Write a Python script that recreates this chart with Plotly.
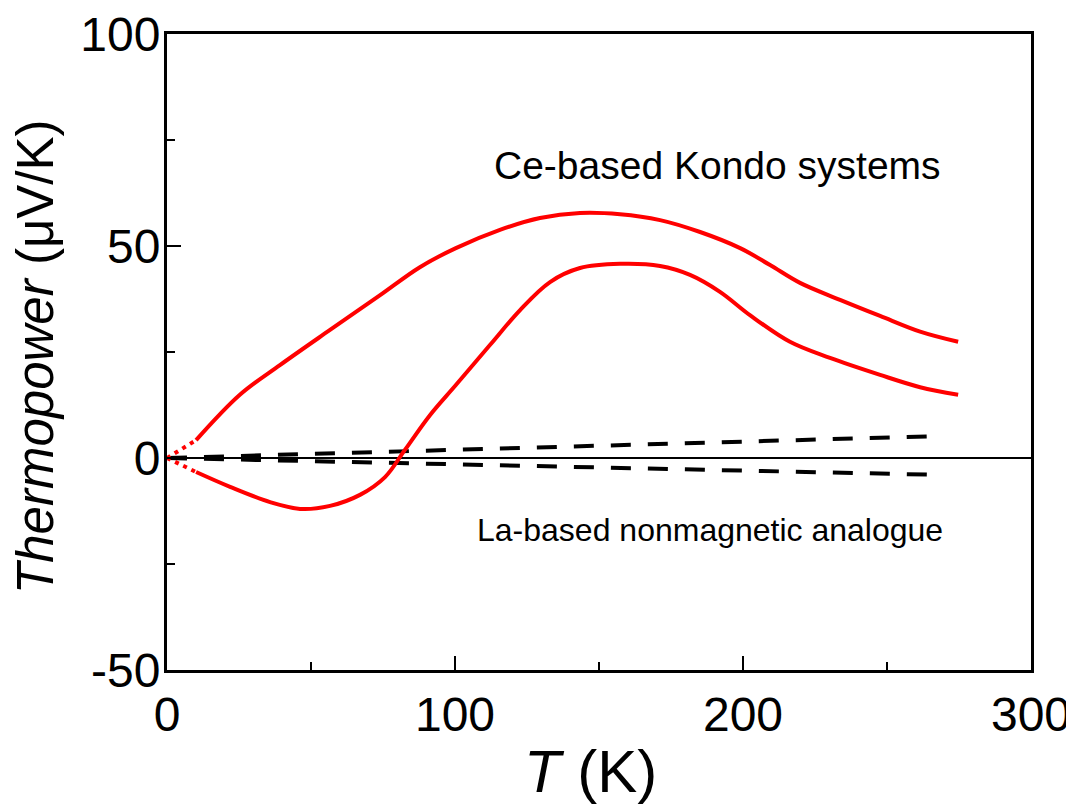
import plotly.graph_objects as go

# Ce-based Kondo system, upper curve
T_upper = [10.1, 25.3, 39.2, 56.6, 74.0, 87.8, 100.3, 115.6, 129.5, 143.4, 157.3, 171.2, 185.1, 199.0, 209.4, 219.8, 233.7, 247.6, 261.5, 274.7]
S_upper = [4.2, 14.9, 21.9, 30.2, 38.4, 45.0, 49.5, 53.8, 56.6, 57.8, 57.5, 56.1, 53.3, 49.5, 45.5, 41.3, 37.3, 33.5, 29.8, 27.4]

# Ce-based Kondo system, lower curve
T_lower = [10.1, 21.9, 35.8, 46.2, 56.6, 67.0, 75.7, 82.6, 91.3, 100.3, 112.2, 122.6, 133.0, 143.4, 157.3, 171.2, 181.6, 192.0, 202.4, 216.3, 230.2, 247.6, 261.5, 274.7]
S_lower = [-3.3, -6.8, -10.4, -12.0, -11.3, -8.7, -4.5, 1.9, 10.1, 17.2, 26.7, 34.9, 41.5, 44.8, 45.8, 45.3, 43.2, 39.2, 33.7, 27.4, 23.6, 19.6, 16.7, 14.9]

# extrapolation to origin (dotted)
T_extrap = [0, 10.1]
S_extrap_up = [0, 4.2]
S_extrap_low = [0, -3.3]

# La-based nonmagnetic analogues (dashed)
T_la = [0, 269.4]
S_la_up = [0, 5.2]
S_la_low = [0, -4.0]

x_ticks = [0, 100, 200, 300]
y_ticks = [-50, 0, 50, 100]

FONT = "Liberation Sans, Arial, sans-serif"
RED = "#ff0000"

fig = go.Figure()
for s in (S_la_up, S_la_low):
    fig.add_trace(go.Scatter(x=T_la, y=s, mode="lines",
                             line=dict(color="black", width=4, dash="20px,17px"),
                             showlegend=False, hoverinfo="skip"))
for s in (S_extrap_up, S_extrap_low):
    fig.add_trace(go.Scatter(x=T_extrap, y=s, mode="lines",
                             line=dict(color=RED, width=4, dash="4px,5px"),
                             showlegend=False, hoverinfo="skip"))
fig.add_trace(go.Scatter(x=T_upper, y=S_upper, mode="lines",
                         line=dict(color=RED, width=4, shape="spline", smoothing=1.0),
                         showlegend=False))
fig.add_trace(go.Scatter(x=T_lower, y=S_lower, mode="lines",
                         line=dict(color=RED, width=4, shape="spline", smoothing=1.0),
                         showlegend=False))

fig.add_annotation(x=191.3, y=68.9, text="Ce-based Kondo systems", showarrow=False,
                   font=dict(family=FONT, size=39, color="black"), xanchor="center", yanchor="middle")
fig.add_annotation(x=188.4, y=-17.0, text="La-based nonmagnetic analogue", showarrow=False,
                   font=dict(family=FONT, size=32, color="black"), xanchor="center", yanchor="middle")

# axis titles
fig.add_annotation(xref="paper", yref="paper", x=0.4896, y=-0.160, text="<i>T</i> (K)", showarrow=False,
                   font=dict(family=FONT, size=60, color="black"), xanchor="center", yanchor="middle")
fig.add_annotation(xref="paper", yref="paper", x=-0.153, y=0.492, text="<i>Thermopower</i> (μV/K)",
                   showarrow=False, textangle=-90,
                   font=dict(family=FONT, size=51, color="black"), xanchor="center", yanchor="middle")

axis_common = dict(showgrid=False, showline=True, linecolor="black", linewidth=3,
                   mirror=True, ticks="inside", ticklen=14, tickwidth=2, tickcolor="black",
                   automargin=False, ticklabeloverflow="allow",
                   tickfont=dict(family=FONT, size=48, color="black"))

fig.update_xaxes(range=[0, 300], tickvals=x_ticks, ticktext=[str(v) for v in x_ticks],
                 zeroline=False,
                 minor=dict(ticks="inside", ticklen=8, tickwidth=2, dtick=50, tick0=0, tickcolor="black"),
                 **axis_common)
fig.update_yaxes(range=[-50, 100], tickvals=y_ticks, ticktext=[str(v) for v in y_ticks],
                 zeroline=True, zerolinecolor="black", zerolinewidth=2,
                 ticklabelstandoff=-6,
                 minor=dict(ticks="inside", ticklen=8, tickwidth=2, dtick=25, tick0=0, tickcolor="black"),
                 **axis_common)

# page body has an 8px margin, so the figure is shifted by (8, 8) in the window
fig.update_layout(width=1066, height=799, margin=dict(l=159, r=43, t=26, b=137),
                  paper_bgcolor="white", plot_bgcolor="white")

fig.write_html("out.html")
